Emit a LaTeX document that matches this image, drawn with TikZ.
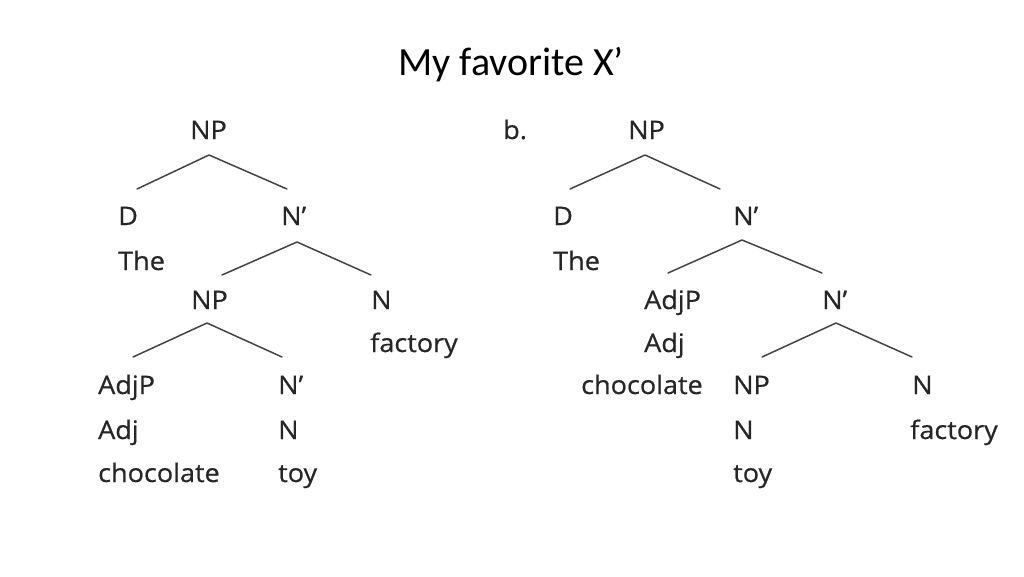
\documentclass[tikz,border=0pt]{standalone}
\usepackage{fontspec}
\setmainfont{Carlito}
\newfontfamily\treefont[FakeStretch=1.06,FakeBold=0.6]{Open Sans}
\usepackage{xcolor}
\usetikzlibrary{positioning}
\definecolor{treegray}{HTML}{262626}
\definecolor{linegray}{HTML}{444444}

\begin{document}
\begin{tikzpicture}[x=1pt,y=-1pt,
	lab/.style={anchor=base west, inner sep=0pt, text=treegray,
		font=\treefont\fontsize{25.5}{25.5}\selectfont},
	branch/.style={linegray, line width=1.5pt, line cap=round, line join=round}]
\useasboundingbox (0,0) rectangle (1024,576);
\node[anchor=base, inner sep=0pt, font=\fontsize{40}{40}\selectfont] (title) at (511,75) {My favorite X’};

% tree a
\node[lab] (a-np)   at (190,139) {NP};
\node[lab] (a-d)    at (118,225) {D};
\node[lab] (a-nb)   at (281,225) {N’};
\node[lab] (a-the)  at (118,270) {The};
\node[lab] (a-np2)  at (191,309) {NP};
\node[lab] (a-n)    at (371,309) {N};
\node[lab] (a-fac)  at (370,352) {factory};
\node[lab] (a-adjp) at (98,394)  {AdjP};
\node[lab] (a-nb2)  at (278,394) {N’};
\node[lab] (a-adj)  at (98,439)  {Adj};
\node[lab] (a-n2)   at (278,439) {N};
\node[lab] (a-choc) at (98,482)  {chocolate};
\node[lab] (a-toy)  at (278,482) {toy};

% tree b
\node[lab] (b-lab)  at (503,139) {b.};
\node[lab] (b-np)   at (628,139) {NP};
\node[lab] (b-d)    at (553,225) {D};
\node[lab] (b-nb)   at (733,225) {N’};
\node[lab] (b-the)  at (553,270) {The};
\node[lab] (b-adjp) at (644,309) {AdjP};
\node[lab] (b-nb2)  at (822,309) {N’};
\node[lab] (b-adj)  at (644,352) {Adj};
\node[lab] (b-choc) at (581,394) {chocolate};
\node[lab] (b-np2)  at (733,394) {NP};
\node[lab] (b-n)    at (912,394) {N};
\node[lab] (b-n2)   at (733,439) {N};
\node[lab] (b-fac)  at (910,439) {factory};
\node[lab] (b-toy)  at (733,482) {toy};

% branch ends
\coordinate (a1-l) at (137,189); \coordinate (a1-t) at (209,155); \coordinate (a1-r) at (287,189);
\coordinate (a2-l) at (222,275); \coordinate (a2-t) at (297,242); \coordinate (a2-r) at (371,275);
\coordinate (a3-l) at (133,357); \coordinate (a3-t) at (207,323); \coordinate (a3-r) at (282,357);
\coordinate (b1-l) at (570,189); \coordinate (b1-t) at (645,155); \coordinate (b1-r) at (720,189);
\coordinate (b2-l) at (668,273); \coordinate (b2-t) at (742,240); \coordinate (b2-r) at (822,273);
\coordinate (b3-l) at (762,357); \coordinate (b3-t) at (836,323); \coordinate (b3-r) at (912,357);

\foreach \b in {a1,a2,a3,b1,b2,b3}
	\draw[branch] (\b-l) -- (\b-t) -- (\b-r);
\end{tikzpicture}
\end{document}
